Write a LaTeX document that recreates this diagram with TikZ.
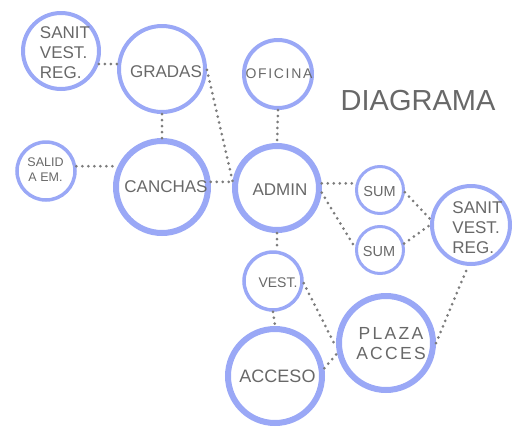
\documentclass[tikz,border=0pt]{standalone}
\usepackage{fontspec}
\setmainfont{Liberation Sans}
\newfontfamily\wideA[LetterSpace=12]{Liberation Sans}
\newfontfamily\wideB[LetterSpace=13]{Liberation Sans}
\definecolor{ringblue}{HTML}{9AA8F6}
\definecolor{inkgray}{HTML}{686868}
\definecolor{dotgray}{HTML}{7C7C7C}
\tikzset{
  ring/.style={circle, draw=ringblue, line width=#1, inner sep=0pt},
  ring/.default=4pt,
  lbl/.style={text=inkgray, inner sep=0pt, align=center},
  link/.style={draw=dotgray, line width=3pt, line cap=round, dash pattern=on 0pt off 6pt},
}
\begin{document}
\begin{tikzpicture}[x=1pt, y=-1pt]
  \useasboundingbox (0,0) rectangle (515,429);

  % rooms
  \node[ring=4pt,   minimum size=76pt] (sanitL)  at (61,51)   {};
  \node[ring=4pt,   minimum size=86pt] (gradas)  at (162,69)  {};
  \node[ring=3.5pt, minimum size=58pt] (salid)   at (46,171)  {};
  \node[ring=6pt,   minimum size=92pt] (canchas) at (162,187) {};
  \node[ring=4pt,   minimum size=68pt] (oficina) at (278,74)  {};
  \node[ring=6pt,   minimum size=84pt] (admin)   at (277,188) {};
  \node[ring=3pt,   minimum size=47pt] (sumA)    at (380,190) {};
  \node[ring=3pt,   minimum size=47pt] (sumB)    at (380,250) {};
  \node[ring=4pt,   minimum size=78pt] (sanitR)  at (471,225) {};
  \node[ring=3.5pt, minimum size=58pt] (vest)    at (273,281) {};
  \node[ring=6pt,   minimum size=94pt] (plaza)   at (386,343) {};
  \node[ring=6pt,   minimum size=94pt] (acceso)  at (275,376) {};

  % labels
  \node[lbl, align=left, font=\fontsize{17}{20}\selectfont] (tSanitL) at (65,52.5) {SANIT\\VEST.\\REG.};
  \node[lbl, font=\fontsize{17}{20}\selectfont] (tGradas) at (166,71.5) {GRADAS};
  \node[lbl, font=\fontsize{12.5}{15}\selectfont] (tSalid) at (45.5,169.5) {SALID\\A EM.};
  \node[lbl, font=\fontsize{17}{20}\selectfont] (tCanchas) at (166,186.5) {CANCHAS};
  \node[lbl, font=\wideA\fontsize{14}{17}\selectfont] (tOficina) at (279,73.5) {OFICINA};
  \node[lbl, font=\fontsize{17}{20}\selectfont] (tAdmin) at (280,190) {ADMIN};
  \node[lbl, font=\fontsize{14.5}{17}\selectfont] (tSumA) at (379.5,192) {SUM};
  \node[lbl, font=\fontsize{14.5}{17}\selectfont] (tSumB) at (379,251.5) {SUM};
  \node[lbl, align=left, font=\fontsize{17}{20}\selectfont] (tSanitR) at (477.5,228) {SANIT\\VEST.\\REG.};
  \node[lbl, font=\fontsize{14}{17}\selectfont] (tVest) at (278,283) {VEST.};
  \node[lbl, font=\wideB\fontsize{17.5}{20}\selectfont] (tPlaza) at (391,343.5) {PLAZA\\ACCES};
  \node[lbl, font=\fontsize{18}{21}\selectfont] (tAcceso) at (277.5,376.5) {ACCESO};
  \node[lbl, font=\fontsize{29}{32}\selectfont] (title) at (418,101) {DIAGRAMA};

  % dotted relations
  \draw[link] (sanitL.-19) -- (sanitL.-19 -| gradas.west);
  \draw[link] (gradas.south) -- (canchas.north);
  \draw[link] (salid.9) -- (salid.9 -| canchas.west);
  \draw[link] (canchas.6) -- (canchas.6 -| admin.west);
  \draw[link] (gradas.-1) -- (admin.171);
  \draw[link] (oficina.south) -- (admin.north);
  \draw[link] (admin.6) -- (admin.6 -| sumA.west);
  \draw[link] (admin.-6) -- (sumB.175);
  \draw[link] (sumA.-5) -- (sanitR.172);
  \draw[link] (sumB.15) -- (sanitR.180);
  \draw[link] (admin.south) -- (admin.south |- vest.north);
  \draw[link] (vest.south) -- (acceso.north);
  \draw[link] (vest.-4) -- (plaza.185);
  \draw[link] (acceso.9) -- (plaza.192);
  \draw[link] (plaza.0) -- (sanitR.-94);
\end{tikzpicture}
\end{document}
